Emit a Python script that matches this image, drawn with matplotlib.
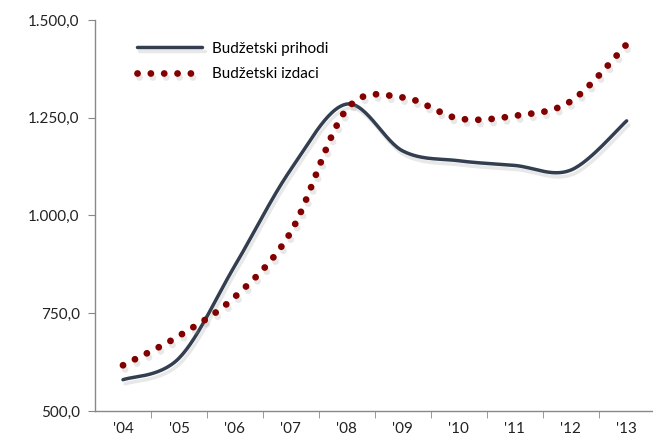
import matplotlib.pyplot as plt
import matplotlib.patheffects as pe
import numpy as np
from matplotlib.ticker import FuncFormatter, FixedLocator

years = ["'04", "'05", "'06", "'07", "'08", "'09", "'10", "'11", "'12", "'13"]
prihodi = [580, 635, 872, 1118, 1285, 1165, 1140, 1128, 1116, 1242]
izdaci = [617, 692, 792, 958, 1272, 1302, 1248, 1255, 1292, 1438]


def smooth(y, n=30):
    # catmull-rom style smoothing like spreadsheet "smoothed line"
    y = np.asarray(y, float)
    x = np.arange(len(y), dtype=float)
    px = np.concatenate([[x[0]], x, [x[-1]]])
    py = np.concatenate([[y[0]], y, [y[-1]]])
    xs, ys = [], []
    for i in range(1, len(px) - 2):
        t = np.linspace(0, 1, n, endpoint=False)
        p0, p1, p2, p3 = py[i - 1], py[i], py[i + 1], py[i + 2]
        q0, q1, q2, q3 = px[i - 1], px[i], px[i + 1], px[i + 2]
        f = lambda a0, a1, a2, a3: 0.5 * ((2 * a1) + (-a0 + a2) * t
                                         + (2 * a0 - 5 * a1 + 4 * a2 - a3) * t ** 2
                                         + (-a0 + 3 * a1 - 3 * a2 + a3) * t ** 3)
        xs.append(f(q0, q1, q2, q3))
        ys.append(f(p0, p1, p2, p3))
    xs.append([x[-1]])
    ys.append([y[-1]])
    return np.concatenate(xs), np.concatenate(ys)


plt.rcParams['font.family'] = ['Lato', 'DejaVu Sans']

fig = plt.figure(figsize=(6.53, 4.43), dpi=100)
ax = fig.add_axes([0.1455, 0.0722, 0.857, 0.8827])

shadow = [pe.SimpleLineShadow(offset=(1.5, -3), shadow_color='#999999', alpha=0.22), pe.Normal()]

x1, y1 = smooth(prihodi)
ax.plot(x1, y1, color='#333f50', lw=2.5, solid_capstyle='round',
        label='Budžetski prihodi', path_effects=shadow)
x2, y2 = smooth(izdaci)
ax.plot(x2, y2, color='#820000', lw=4.9, linestyle=(0, (0.01, 1.95)),
        dash_capstyle='round', label='Budžetski izdaci', path_effects=shadow)

ax.set_xlim(-0.5, 9.5)
ax.set_ylim(500, 1500)
ax.set_yticks([500, 750, 1000, 1250, 1500])
ax.yaxis.set_major_formatter(FuncFormatter(
    lambda v, p: f"{v:,.1f}".replace(',', 'X').replace('.', ',').replace('X', '.')))
ax.set_xticks(range(len(years)))
ax.set_xticklabels(years)
ax.xaxis.set_minor_locator(FixedLocator(np.arange(0.5, 9.5, 1)))
ax.tick_params(axis='x', which='major', length=0, pad=8, labelsize=11, colors='#222222')
ax.tick_params(axis='x', which='minor', length=5, color='#888888', direction='out')
ax.tick_params(axis='y', length=5, color='#888888', labelsize=11, pad=6, colors='#222222')
ax.tick_params(axis='y', color='#888888')

for s in ['top', 'right']:
    ax.spines[s].set_visible(False)
for s in ['left', 'bottom']:
    ax.spines[s].set_color('#888888')
    ax.spines[s].set_linewidth(1.0)

leg = ax.legend(loc='upper left', bbox_to_anchor=(0.05, 0.98), frameon=False,
                fontsize=11, handlelength=4.3, handletextpad=0.6, labelspacing=0.75)

fig.savefig('out.png', dpi=100)
